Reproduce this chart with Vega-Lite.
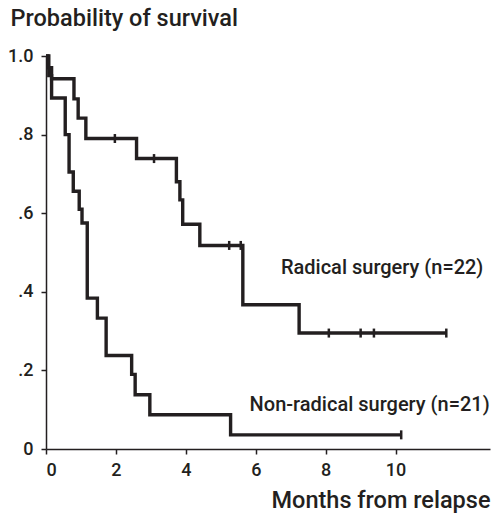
{
  "$schema": "https://vega.github.io/schema/vega-lite/v6.json",
  "width": 444,
  "height": 393,
  "autosize": {"type": "none"},
  "padding": {"left": 46, "top": 56, "right": 6, "bottom": 64},
  "background": "white",
  "config": {
    "view": {"stroke": null},
    "font": "Roboto",
    "axis": {"grid": false, "domainColor": "#231f20", "domainWidth": 1.5, "tickColor": "#231f20", "tickWidth": 1.5, "tickSize": 5, "labelColor": "#231f20", "labelFont": "Roboto", "labelFontSize": 18, "labelFontWeight": 500, "titleColor": "#231f20", "titleFont": "Roboto", "titleFontSize": 23.5, "titleFontWeight": 500}
  },
  "datasets": {
    "curves": [
      {"group": "Radical", "month": 0, "surv": 1.0},
      {"group": "Radical", "month": 0.05, "surv": 0.97},
      {"group": "Radical", "month": 0.16, "surv": 0.942},
      {"group": "Radical", "month": 0.8, "surv": 0.891},
      {"group": "Radical", "month": 0.92, "surv": 0.842},
      {"group": "Radical", "month": 1.14, "surv": 0.79},
      {"group": "Radical", "month": 2.59, "surv": 0.739},
      {"group": "Radical", "month": 3.73, "surv": 0.68},
      {"group": "Radical", "month": 3.83, "surv": 0.634},
      {"group": "Radical", "month": 3.91, "surv": 0.572},
      {"group": "Radical", "month": 4.4, "surv": 0.518},
      {"group": "Radical", "month": 5.63, "surv": 0.367},
      {"group": "Radical", "month": 7.24, "surv": 0.295},
      {"group": "Radical", "month": 11.45, "surv": 0.295},
      {"group": "Non-radical", "month": 0, "surv": 1.0},
      {"group": "Non-radical", "month": 0.08, "surv": 0.95},
      {"group": "Non-radical", "month": 0.16, "surv": 0.893},
      {"group": "Non-radical", "month": 0.55, "surv": 0.8},
      {"group": "Non-radical", "month": 0.66, "surv": 0.705},
      {"group": "Non-radical", "month": 0.78, "surv": 0.656},
      {"group": "Non-radical", "month": 0.95, "surv": 0.61},
      {"group": "Non-radical", "month": 1.03, "surv": 0.575},
      {"group": "Non-radical", "month": 1.18, "surv": 0.384},
      {"group": "Non-radical", "month": 1.47, "surv": 0.333},
      {"group": "Non-radical", "month": 1.72, "surv": 0.238},
      {"group": "Non-radical", "month": 2.45, "surv": 0.19},
      {"group": "Non-radical", "month": 2.55, "surv": 0.138},
      {"group": "Non-radical", "month": 2.97, "surv": 0.087},
      {"group": "Non-radical", "month": 5.28, "surv": 0.036},
      {"group": "Non-radical", "month": 10.16, "surv": 0.036}
    ],
    "censors": [
      {"group": "Radical", "month": 1.97, "surv": 0.79},
      {"group": "Radical", "month": 3.09, "surv": 0.739},
      {"group": "Radical", "month": 5.24, "surv": 0.518},
      {"group": "Radical", "month": 5.57, "surv": 0.518},
      {"group": "Radical", "month": 8.09, "surv": 0.295},
      {"group": "Radical", "month": 9.0, "surv": 0.295},
      {"group": "Radical", "month": 9.38, "surv": 0.295},
      {"group": "Radical", "month": 11.45, "surv": 0.295},
      {"group": "Non-radical", "month": 10.16, "surv": 0.036}
    ],
    "labels": [
      {"month": 12.51, "surv": 0.461, "text": "Radical surgery (n=22)"},
      {"month": 12.69, "surv": 0.112, "text": "Non-radical surgery (n=21)"}
    ]
  },
  "layer": [
    {
      "data": {"name": "curves"},
      "mark": {"type": "line", "interpolate": "step-after", "color": "#231f20", "strokeWidth": 3.4, "strokeJoin": "miter", "strokeCap": "butt"},
      "encoding": {
        "detail": {"field": "group"},
        "x": {"field": "month", "type": "quantitative", "scale": {"domain": [0, 12.7], "nice": false, "zero": false},
          "axis": {"values": [0, 2, 4, 6, 8, 10], "labelPadding": 7, "title": "Months from relapse", "titleAnchor": "end", "titleAlign": "right", "titleBaseline": "alphabetic", "titleX": 444, "titleY": 58}},
        "y": {"field": "surv", "type": "quantitative", "scale": {"domain": [0, 1], "nice": false},
          "axis": {"values": [0, 0.2, 0.4, 0.6, 0.8, 1.0], "labelPadding": 8, "labelExpr": "datum.value == 0 ? '0' : datum.value == 1 ? '1.0' : replace(format(datum.value, '.1f'), '0.', '.')", "title": "Probability of survival", "titleAngle": 0, "titleAlign": "left", "titleBaseline": "alphabetic", "titleX": -36, "titleY": -31}}
      }
    },
    {
      "data": {"name": "censors"},
      "mark": {"type": "tick", "orient": "vertical", "color": "#231f20", "size": 9, "thickness": 2.5, "opacity": 1},
      "encoding": {
        "x": {"field": "month", "type": "quantitative"},
        "y": {"field": "surv", "type": "quantitative"}
      }
    },
    {
      "data": {"name": "labels"},
      "mark": {"type": "text", "align": "right", "baseline": "middle", "font": "Roboto", "fontWeight": 500, "fontSize": 20, "color": "#231f20"},
      "encoding": {
        "x": {"field": "month", "type": "quantitative"},
        "y": {"field": "surv", "type": "quantitative"},
        "text": {"field": "text"}
      }
    }
  ]
}
